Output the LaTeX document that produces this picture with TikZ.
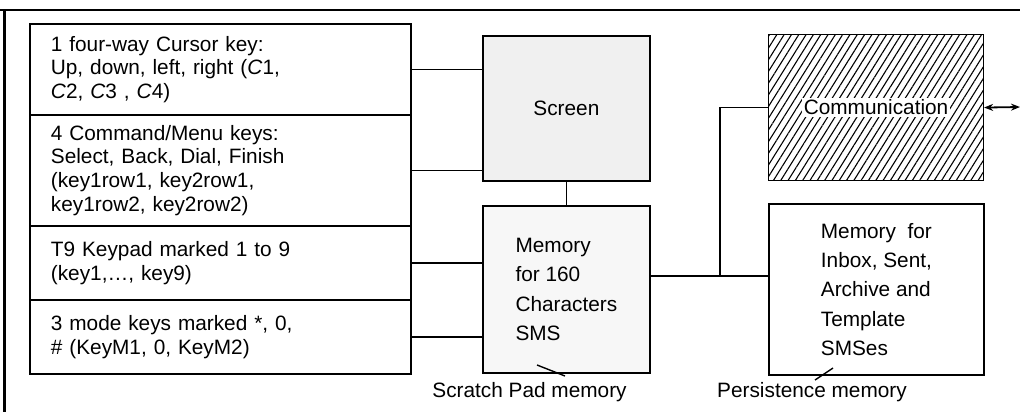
\documentclass[tikz,border=0pt]{standalone}
\usepackage{fontspec}
\setmainfont{Liberation Sans}
\usetikzlibrary{positioning, arrows.meta, patterns.meta}

\begin{document}
\begin{tikzpicture}[x=0.5pt, y=-0.5pt, line width=0.9pt,
			tecla/.style={draw, anchor=north west, minimum width=190.5pt, text width=169.5pt,
			              inner xsep=10.5pt, inner ysep=0pt, align=left,
			              font=\fontsize{10.4}{11.8}\selectfont},
			bloque/.style={draw, anchor=north west, align=left, inner sep=0pt,
			               font=\fontsize{10.4}{14.6}\selectfont},
			rotulo/.style={inner sep=1pt, font=\fontsize{10.4}{12}\selectfont}]
			\useasboundingbox (0,0) rectangle (1020,412);
			\draw[line width=1.1pt] (0,10) -- (1020,10);
			\draw[line width=1.7pt] (4.5,9.5) -- (4.5,412);
			\node[tecla, minimum height=45.5pt] (cursor) at (29,23)
				{1 four-way Cursor key:\\ Up, down, left, right (\textit{C}1,\\ \textit{C}2, \textit{C}3 , \textit{C}4)};
			\node[tecla, minimum height=55.5pt] (menu) at (29,114)
				{4 Command/Menu keys:\\ Select, Back, Dial, Finish\\ (key1row1, key2row1,\\ key1row2, key2row2)};
			\node[tecla, minimum height=37pt] (teclado) at (29,225)
				{T9 Keypad marked 1 to 9\\ (key1,\dots, key9)};
			\node[tecla, minimum height=37pt] (modos) at (29,299)
				{3 mode keys marked *, 0,\\ \# (KeyM1, 0, KeyM2)};
			\node[bloque, fill=black!6, minimum width=83.5pt, minimum height=72.5pt] (pantalla) at (482,35)
				{Screen};
			\node[bloque, fill=black!3, minimum width=83.5pt, minimum height=83.5pt] (borrador) at (482,205)
				{Memory\\ for 160\\ Characters\\ SMS};
			\node[bloque, minimum width=107.5pt, minimum height=73pt,
			      pattern={Lines[angle=58, distance=3.1pt, line width=0.55pt]}] (comunica) at (768,34) {};
			\node[rotulo, fill=white] (comunicatxt) at (comunica.center) {Communication};
			\node[bloque, minimum width=107.5pt, minimum height=85.5pt] (persiste) at (768,203)
				{Memory\ \ for\\ Inbox, Sent,\\ Archive and\\ Template\\ SMSes};
			\node[rotulo] (borradorlbl) at (529.5,392) {Scratch Pad memory};
			\node[rotulo] (persistelbl) at (812,392) {Persistence memory};
			\draw (cursor.east) -- (cursor.east -| pantalla.west);
			\draw (menu.east) -- (menu.east -| pantalla.west);
			\draw (teclado.east) -- (teclado.east -| borrador.west);
			\draw (modos.east) -- (modos.east -| borrador.west);
			\draw (pantalla.south) -- (borrador.north);
			\coordinate (union) at (720,276);
			\draw (union -| borrador.east) -- (union -| persiste.west);
			\draw (union) |- (comunica.west);
			\coordinate (salida) at (1020,107);
			\draw[{Stealth[length=4.5pt, width=3.5pt]}-{Stealth[length=4.5pt, width=3.5pt]}] (comunica.east) -- (salida);
			\coordinate (borradorA) at (537,365);
			\coordinate (borradorB) at (565,376);
			\draw[line width=0.7pt] (borradorA) -- (borradorB);
			\coordinate (persisteA) at (815,380);
			\coordinate (persisteB) at (833,368);
			\draw[line width=0.7pt] (persisteA) -- (persisteB);
		\end{tikzpicture}
\end{document}
